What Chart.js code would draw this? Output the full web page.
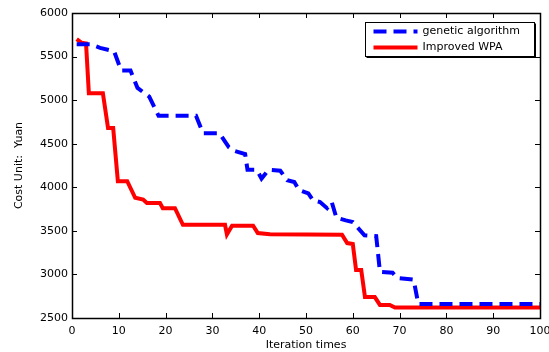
<!DOCTYPE html>
<html>
<head>
<meta charset="utf-8">
<script src="https://cdn.jsdelivr.net/npm/chart.js@4.4.0/dist/chart.umd.min.js"></script>
<style>
  body { margin: 0; background: #fff; }
  #wrap { width: 549px; height: 352px; position: relative; }
</style>
</head>
<body>
<div id="wrap"><canvas id="costChart"></canvas></div>
<script>
// values
const iterGA = [1, 4, 6, 9, 10.5, 12.5, 14, 16.5, 18.5, 26.5, 28, 31.5, 33.5, 34.5, 37, 37.5, 39.5, 40.5, 42, 44.5, 46, 47.5, 48.5, 50.5, 51.5, 53, 54.5, 55.5, 56.5, 58.5, 60, 61, 62.5, 65, 65.8, 68.5, 69.5, 73, 74, 100];
const costGA = [5640, 5640, 5600, 5560, 5340, 5340, 5140, 5040, 4820, 4820, 4620, 4620, 4460, 4420, 4380, 4200, 4200, 4100, 4200, 4190, 4080, 4060, 3970, 3930, 3850, 3830, 3760, 3830, 3650, 3620, 3600, 3540, 3450, 3440, 3030, 3020, 2960, 2940, 2660, 2660];

const iterWPA = [1, 2, 3, 3.6, 6.6, 7.7, 8.8, 9.8, 11.8, 13.5, 15.2, 16, 18.8, 19.4, 22, 23.7, 32.7, 33.1, 34.2, 38.7, 39.7, 42.3, 57.7, 58.8, 60, 60.7, 61.8, 62.6, 64.7, 65.8, 67.9, 69, 100];
const costWPA = [5700, 5660, 5650, 5080, 5080, 4680, 4680, 4070, 4070, 3880, 3860, 3820, 3820, 3760, 3760, 3570, 3570, 3460, 3560, 3560, 3475, 3460, 3455, 3360, 3350, 3050, 3050, 2740, 2740, 2650, 2650, 2620, 2620];

const seriesNames = ['genetic algorithm', 'Improved WPA'];
const xTicks = [0, 10, 20, 30, 40, 50, 60, 70, 80, 90, 100];
const yTicks = [2500, 3000, 3500, 4000, 4500, 5000, 5500, 6000];

const FONT = '"DejaVu Sans", Verdana, sans-serif';
const toPoints = (xs, ys) => xs.map((x, i) => ({ x: x, y: ys[i] }));

// MATLAB-like box, inward ticks on all four sides, boxed legend
const matlabFrame = {
    id: 'matlabFrame',
    afterDatasetsDraw(chart) {
        const ctx = chart.ctx;
        const a = chart.chartArea;
        const xs = chart.scales.x, ys = chart.scales.y;
        const len = 5;
        ctx.save();
        ctx.strokeStyle = '#000';
        ctx.lineWidth = 1;
        ctx.beginPath();
        xTicks.forEach(v => {
            const px = Math.round(xs.getPixelForValue(v)) + 0.5;
            ctx.moveTo(px, a.bottom); ctx.lineTo(px, a.bottom - len);
            ctx.moveTo(px, a.top); ctx.lineTo(px, a.top + len);
        });
        yTicks.forEach(v => {
            const py = Math.round(ys.getPixelForValue(v)) + 0.5;
            ctx.moveTo(a.left, py); ctx.lineTo(a.left + len, py);
            ctx.moveTo(a.right, py); ctx.lineTo(a.right - len, py);
        });
        ctx.stroke();
        ctx.lineWidth = 1.5;
        ctx.strokeRect(Math.round(a.left) + 0.5, Math.round(a.top) + 0.5,
            Math.round(a.right - a.left), Math.round(a.bottom - a.top));

        // legend
        const w = 169, h = 34;
        const lx = Math.round(a.right) - 175 + 0.5, ly = Math.round(a.top) + 9 + 0.5;
        ctx.fillStyle = '#fff';
        ctx.fillRect(lx, ly, w, h);
        ctx.lineWidth = 1;
        ctx.strokeStyle = '#000';
        ctx.strokeRect(lx, ly, w, h);
        ctx.beginPath();
        ctx.moveTo(lx + 1, ly + h + 1); ctx.lineTo(lx + w + 1, ly + h + 1); ctx.lineTo(lx + w + 1, ly + 1);
        ctx.stroke();
        ctx.font = '11px ' + FONT;
        ctx.textBaseline = 'middle';
        chart.data.datasets.forEach((ds, i) => {
            const ry = ly + 9 + i * 16;
            ctx.strokeStyle = ds.borderColor;
            ctx.lineWidth = 4;
            ctx.setLineDash(ds.borderDash || []);
            ctx.beginPath();
            ctx.moveTo(lx + 8, ry); ctx.lineTo(lx + 52, ry);
            ctx.stroke();
            ctx.setLineDash([]);
            ctx.fillStyle = '#000';
            ctx.fillText(ds.label, lx + 57, ry);
        });
        ctx.restore();
    }
};

new Chart(document.getElementById('costChart'), {
    type: 'line',
    data: {
        datasets: [
            {
                label: seriesNames[0],
                data: toPoints(iterGA, costGA),
                borderColor: '#0000ff',
                borderWidth: 4,
                borderDash: [13, 7],
                pointRadius: 0,
                tension: 0
            },
            {
                label: seriesNames[1],
                data: toPoints(iterWPA, costWPA),
                borderColor: '#ff0000',
                borderWidth: 4,
                pointRadius: 0,
                tension: 0
            }
        ]
    },
    options: {
        responsive: true,
        maintainAspectRatio: false,
        animation: false,
        layout: { padding: { top: 13, right: 9, left: 0, bottom: 0 } },
        plugins: { legend: { display: false }, tooltip: { enabled: false } },
        scales: {
            x: {
                type: 'linear',
                min: 0, max: 100,
                afterFit: s => { s.height = 34; s.paddingLeft = 0; s.paddingRight = 0; },
                afterBuildTicks: s => { s.ticks = xTicks.map(v => ({ value: v })); },
                grid: { display: false, drawTicks: false },
                border: { display: false },
                ticks: { color: '#000', font: { family: FONT, size: 11 }, padding: 7, maxRotation: 0, callback: v => String(v) },
                title: { display: true, text: 'Iteration times', color: '#000', font: { family: FONT, size: 11 }, padding: { top: 0, bottom: 0 } }
            },
            y: {
                min: 2500, max: 6000,
                afterFit: s => { s.width = 72; },
                afterBuildTicks: s => { s.ticks = yTicks.map(v => ({ value: v })); },
                grid: { display: false, drawTicks: false },
                border: { display: false },
                ticks: { color: '#000', font: { family: FONT, size: 11 }, padding: 4, callback: v => String(v) },
                title: { display: true, text: 'Cost Unit:  Yuan', color: '#000', font: { family: FONT, size: 11 }, padding: { top: 13, bottom: 0 } }
            }
        }
    },
    plugins: [matlabFrame]
});
</script>
</body>
</html>
